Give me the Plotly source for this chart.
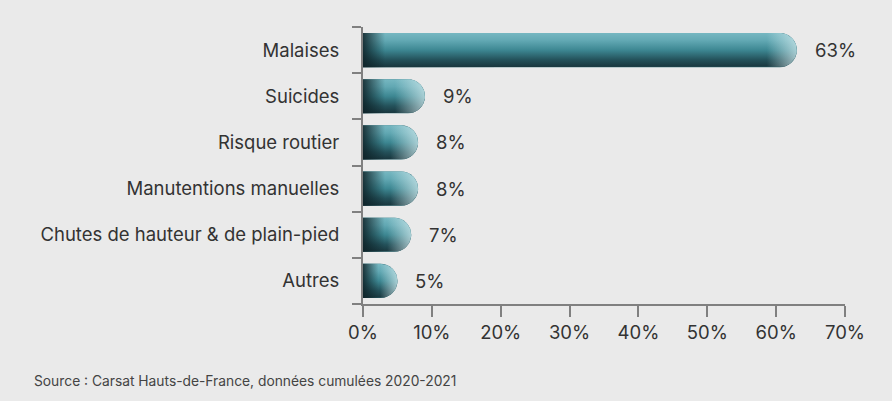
import numpy as np
import plotly.graph_objects as go

# Data
categories = ["Malaises", "Suicides", "Risque routier", "Manutentions manuelles",
              "Chutes de hauteur & de plain-pied", "Autres"]
values = [63, 9, 8, 8, 7, 5]
value_labels = ["63%", "9%", "8%", "8%", "7%", "5%"]
x_ticks = [0, 10, 20, 30, 40, 50, 60, 70]
x_ticklabels = ["0%", "10%", "20%", "30%", "40%", "50%", "60%", "70%"]
source_text = "Source : Carsat Hauts-de-France, données cumulées 2020-2021"

# Layout geometry
W, H = 892, 401
M_L, M_R, M_T, M_B = 363, 47, 27, 97
X_MAX = 70
BAR_W = 0.74
FONT = "Inter, 'Open Sans', sans-serif"
BG = "#eaeaea"
AXIS_COL = "#808080"
TEXT_COL = "#333333"
LABEL_SIZE = 18.5

n = len(categories)
ypos = list(range(n - 1, -1, -1))  # first category at the top

plot_w = W - M_L - M_R
plot_h = H - M_T - M_B
px_per_x = plot_w / X_MAX
px_per_y = plot_h / n
half_h = BAR_W / 2
rx = half_h * px_per_y / px_per_x  # cap radius expressed in x units

fig = go.Figure()

# Base bars with rounded caps
fig.add_trace(go.Bar(
    x=values, y=ypos, orientation="h", width=BAR_W,
    marker=dict(color="#2f6c76", cornerradius="50%", line=dict(width=0)),
    hoverinfo="skip", showlegend=False,
))


def capsule(v, yc):
    xs_end = max(v - rx, 0)
    t = np.linspace(-np.pi / 2, np.pi / 2, 40)
    ax = xs_end + rx * np.cos(t)
    ay = yc + half_h * np.sin(t)
    xs = [0, xs_end] + list(ax) + [0, 0]
    ys = [yc - half_h, yc - half_h] + list(ay) + [yc + half_h, yc - half_h]
    return xs, ys


for v, yc in zip(values, ypos):
    xs, ys = capsule(v, yc)
    # vertical shading: light top, dark bottom
    fig.add_trace(go.Scatter(
        x=xs, y=ys, mode="lines", fill="toself", line=dict(width=0),
        fillgradient=dict(type="vertical", colorscale=[
            [0.0, "#19363d"], [0.22, "#24525b"], [0.5, "#3d8792"],
            [0.78, "#62a8b3"], [1.0, "#76b7c1"]]),
        hoverinfo="skip", showlegend=False,
    ))
    # horizontal shading: dark at the base, highlight on the cap
    bar_px = v * px_per_x
    f_dark = min(0.45, 22 / bar_px)
    f_cap = max(0.5, 1 - 30 / bar_px)
    fig.add_trace(go.Scatter(
        x=xs, y=ys, mode="lines", fill="toself", line=dict(width=0),
        fillgradient=dict(type="horizontal", colorscale=[
            [0.0, "rgba(12,32,37,0.85)"], [f_dark, "rgba(12,32,37,0)"],
            [f_cap, "rgba(215,238,241,0)"], [1.0, "rgba(215,238,241,0.7)"]]),
        hoverinfo="skip", showlegend=False,
    ))

# Value labels
for v, yc, lab in zip(values, ypos, value_labels):
    fig.add_annotation(
        x=v, y=yc, text=lab, showarrow=False, xanchor="left", yanchor="middle",
        xshift=16, font=dict(family=FONT, size=LABEL_SIZE, color=TEXT_COL),
    )

# Source note, placed in pixel terms relative to the plot area
fig.add_annotation(
    x=(32 - M_L) / plot_w, y=(H - 381 - M_B) / plot_h,
    xref="paper", yref="paper", text=source_text, showarrow=False,
    xanchor="left", yanchor="middle",
    font=dict(family=FONT, size=13.8, color="#444444"),
)

fig.update_layout(
    width=W, height=H,
    margin=dict(l=M_L, r=M_R, t=M_T, b=M_B),
    paper_bgcolor=BG, plot_bgcolor=BG,
    showlegend=False,
    font=dict(family=FONT, color=TEXT_COL),
    xaxis=dict(
        range=[0, X_MAX], tickvals=x_ticks, ticktext=x_ticklabels,
        showgrid=False, zeroline=False, showline=True, linecolor=AXIS_COL,
        linewidth=2, ticks="outside", ticklen=11, tickwidth=2,
        tickcolor=AXIS_COL, tickfont=dict(size=LABEL_SIZE, color=TEXT_COL),
        fixedrange=True,
    ),
    yaxis=dict(
        range=[-0.5, n - 0.5], tickvals=ypos, ticktext=categories,
        showgrid=False, zeroline=False, showline=True, linecolor=AXIS_COL,
        linewidth=2, ticks="", ticklabelstandoff=18,
        tickfont=dict(size=LABEL_SIZE, color=TEXT_COL),
        minor=dict(tickvals=[i - 0.5 for i in range(n + 1)], ticks="outside",
                   ticklen=9, tickwidth=2, tickcolor=AXIS_COL, showgrid=False),
        fixedrange=True,
    ),
)

fig.write_html("out.html")
